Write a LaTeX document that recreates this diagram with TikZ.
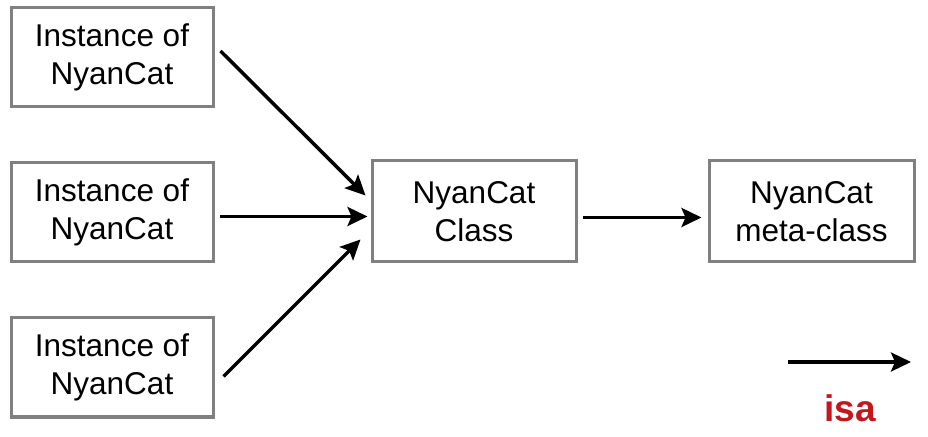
\documentclass[tikz,border=0pt]{standalone}
\usepackage{fontspec}
\setmainfont{Liberation Sans}
\usetikzlibrary{arrows.meta,positioning}

\definecolor{boxgray}{HTML}{808080}
\definecolor{isared}{HTML}{C4161C}

\begin{document}
\begin{tikzpicture}[
    x=1pt, y=1pt,
    box/.style={rectangle, draw=boxgray, line width=3pt, fill=white, minimum width=202pt, minimum height=99pt, align=center, inner sep=0pt, font=\fontsize{31.5}{38}\selectfont},
    arrow/.style={line width=3.5pt, -{Stealth[length=20pt, width=19pt, inset=4pt]}},
    legend/.style={font=\fontsize{37}{40}\selectfont\bfseries, text=isared}
]
\useasboundingbox (0,0) rectangle (928,436);

% Instances - Left Column
\node[box] (inst1) at (112,378.5) {Instance of\\NyanCat};
\node[box] (inst2) at (112,223.5) {Instance of\\NyanCat};
\node[box] (inst3) at (112,68.5) {Instance of\\NyanCat};

% Class and meta-class
\node[box, minimum width=204pt, minimum height=101pt] (cls) at (474,224.5) {NyanCat\\Class};
\node[box, minimum width=205pt, minimum height=101pt] (meta) at (811.5,224.5) {NyanCat\\meta-class};

% Legend
\coordinate (legstart) at (788,74);
\coordinate (legend_end) at (911,74);
\node[legend] (isa) at (850,28) {isa};

% Instance arrows
\draw[arrow] ([xshift=6pt,yshift=6.5pt]inst1.east) -- ([xshift=-5pt,yshift=16pt]cls.west);
\draw[arrow] ([xshift=5pt,yshift=-4pt]inst2.east) -- ([xshift=-3pt,yshift=-5pt]cls.west);
\draw[arrow] ([xshift=9pt,yshift=-9pt]inst3.east) -- ([xshift=-10pt,yshift=-28pt]cls.west);

% Class to meta-class
\draw[arrow] ([xshift=5pt,yshift=-6pt]cls.east) -- ([xshift=-6pt,yshift=-6pt]meta.west);

% Legend arrow
\draw[arrow] (legstart) -- (legend_end);

\end{tikzpicture}
\end{document}
